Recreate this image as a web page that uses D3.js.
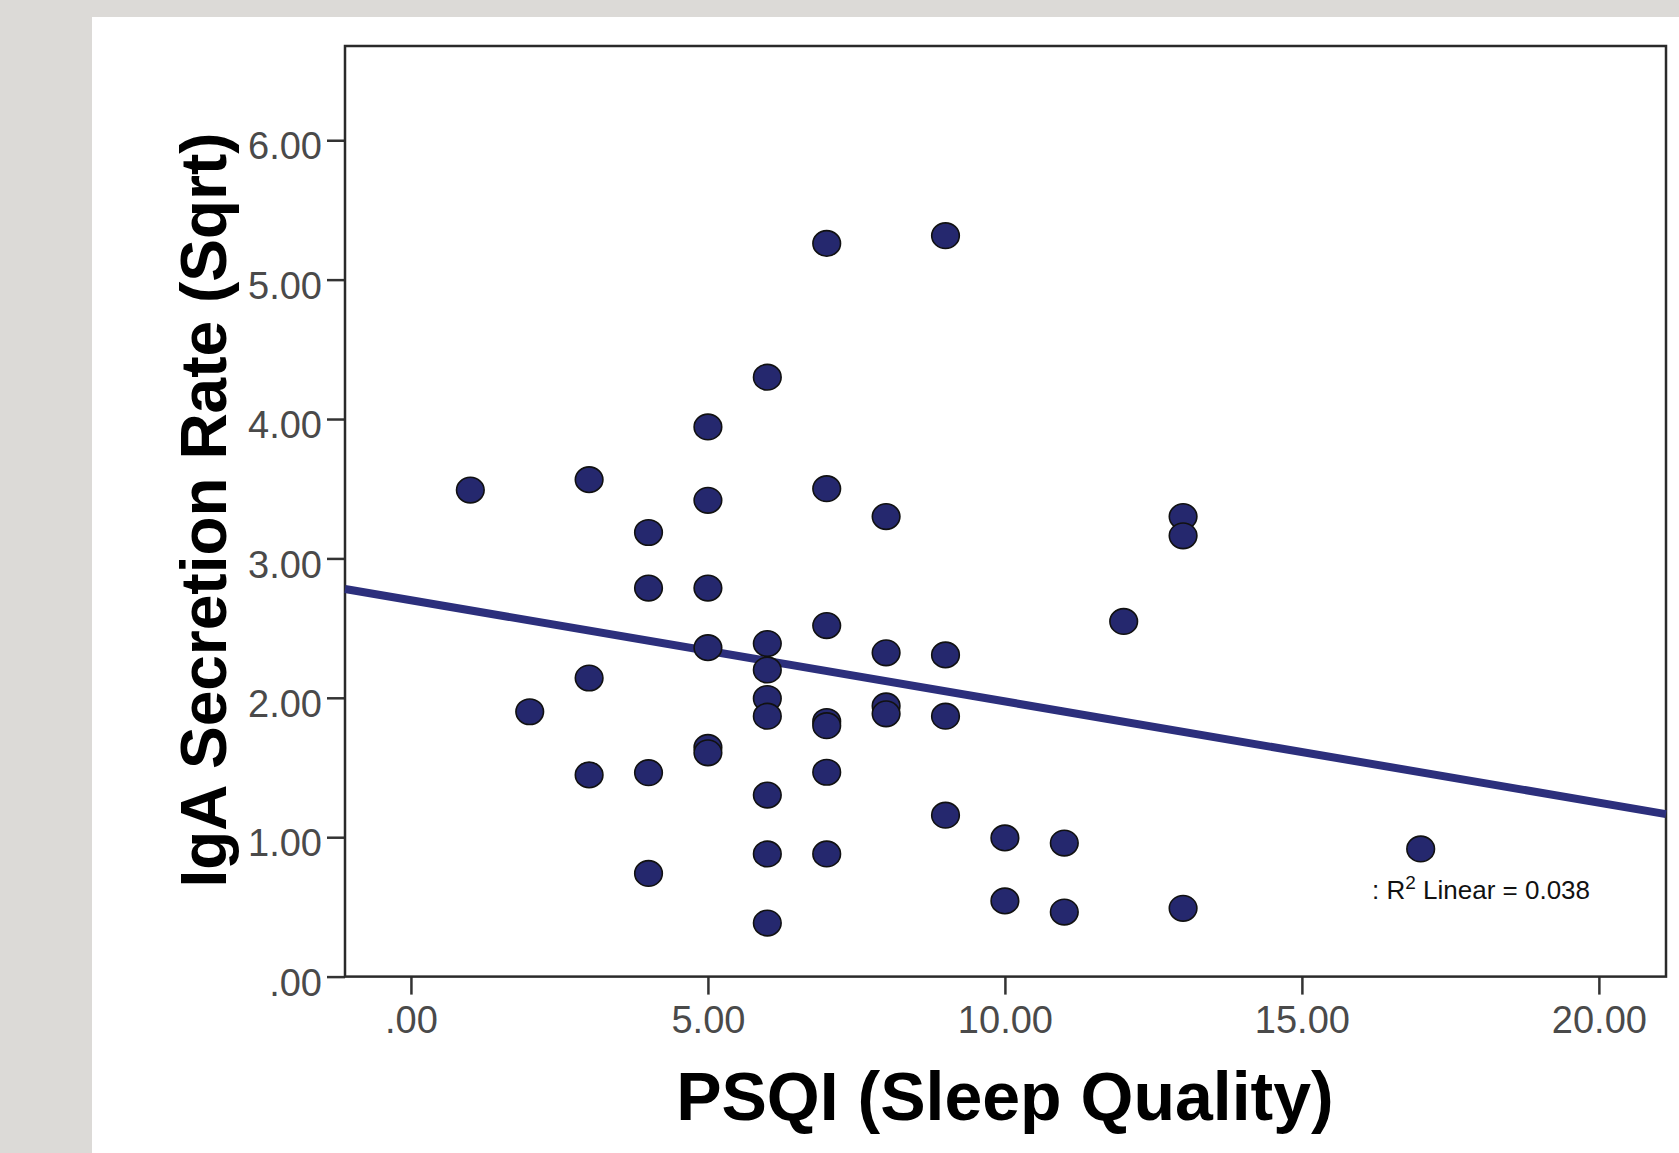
<!DOCTYPE html>
<html>
<head>
<meta charset="utf-8">
<script src="https://cdn.jsdelivr.net/npm/d3@7"></script>
<style>
  html, body { margin: 0; padding: 0; background: #dcdad7; }
  svg { display: block; }
</style>
</head>
<body>
<svg id="chart" width="1679" height="1153"></svg>
<script>
// PSQI score (x) and IgA secretion rate sqrt (y)
const psqi = [1, 2, 3, 3, 3, 4, 4, 4, 4, 5, 5, 5, 5, 5, 5,
  6, 6, 6, 6, 6, 6, 6, 6, 7, 7, 7, 7, 7, 7, 7,
  8, 8, 8, 8, 9, 9, 9, 9, 10, 10, 11, 11, 12, 13, 13, 13, 17];
const iga = [3.49, 1.90, 3.565, 2.142, 1.447, 3.186, 2.787, 1.463, 0.740, 3.943, 3.417, 2.787, 2.36, 1.644, 1.605,
  4.30, 2.389, 2.20, 1.995, 1.868, 1.302, 0.880, 0.384, 5.26, 3.50, 2.518, 1.83, 1.80, 1.466, 0.880,
  3.30, 2.323, 1.942, 1.885, 5.315, 2.308, 1.868, 1.158, 0.995, 0.543, 0.958, 0.463, 2.548, 3.30, 3.162, 0.490, 0.916];
const xTicks = [0, 5, 10, 15, 20];
const yTicks = [0, 1, 2, 3, 4, 5, 6];
// fit line as drawn in the chart
const fitIntercept = 2.70;
const fitSlope = -0.0726;
const r2Text = "0.038";

const svg = d3.select("#chart");
// white panel
svg.append("rect").attr("x", 92).attr("y", 17).attr("width", 1679 - 92).attr("height", 1153 - 17).attr("fill", "#fff");

const plotLeft = 345, plotTop = 46, plotRight = 1666, plotBottom = 976.6;
const x = d3.scaleLinear().domain([-1.11, 21.13]).range([plotLeft, plotRight]);
const y = d3.scaleLinear().domain([0, 6.676]).range([plotBottom, plotTop]);

const fmt = d => d === 0 ? ".00" : d3.format(".2f")(d);
const font = "'Liberation Sans', Arial, sans-serif";

// y axis
const gy = svg.append("g")
    .attr("transform", "translate(" + plotLeft + ",0)")
    .call(d3.axisLeft(y).tickValues(yTicks).tickFormat(fmt).tickSize(18).tickPadding(5));
gy.select(".domain").remove();
gy.selectAll(".tick line").attr("stroke", "#333").attr("stroke-width", 2.5);
gy.selectAll(".tick text")
    .attr("dy", "0.49em")
    .attr("fill", "#4a4a4a")
    .style("font-family", font).style("font-size", "38px");

// x axis
const gx = svg.append("g")
    .attr("transform", "translate(0," + plotBottom + ")")
    .call(d3.axisBottom(x).tickValues(xTicks).tickFormat(fmt).tickSize(18).tickPadding(11));
gx.select(".domain").remove();
gx.selectAll(".tick line").attr("stroke", "#333").attr("stroke-width", 2.5);
gx.selectAll(".tick text")
    .attr("fill", "#4a4a4a")
    .style("font-family", font).style("font-size", "38px");

// frame
svg.append("rect")
    .attr("x", plotLeft).attr("y", plotTop)
    .attr("width", plotRight - plotLeft).attr("height", plotBottom - plotTop)
    .attr("fill", "none").attr("stroke", "#2a2a2a").attr("stroke-width", 2.5);

// fit line
const xd = x.domain();
svg.append("line")
    .attr("x1", x(xd[0])).attr("y1", y(fitIntercept + fitSlope * xd[0]))
    .attr("x2", x(xd[1])).attr("y2", y(fitIntercept + fitSlope * xd[1]))
    .attr("stroke", "#2c2f7c").attr("stroke-width", 8);

// points
const data = psqi.map((d, i) => ({psqi: d, iga: iga[i]}));
svg.selectAll(".dot")
    .data(data)
  .enter().append("ellipse")
    .attr("class", "dot")
    .attr("cx", d => x(d.psqi))
    .attr("cy", d => y(d.iga))
    .attr("rx", 13.8)
    .attr("ry", 12.8)
    .attr("fill", "#25286e")
    .attr("stroke", "#111")
    .attr("stroke-width", 1.6);

// R2 annotation
const ann = svg.append("text")
    .attr("x", 1372).attr("y", 899)
    .style("font-family", font).style("font-size", "26px").attr("fill", "#111");
ann.append("tspan").text(": R");
ann.append("tspan").attr("dy", -10).style("font-size", "19px").text("2");
ann.append("tspan").attr("dy", 10).text(" Linear = " + r2Text);

// axis titles
svg.append("text")
    .attr("x", x(10)).attr("y", 1120)
    .attr("text-anchor", "middle")
    .style("font-family", font).style("font-size", "68px").style("font-weight", "bold")
    .text("PSQI (Sleep Quality)");

svg.append("text")
    .attr("transform", "translate(226,510) rotate(-90)")
    .attr("text-anchor", "middle")
    .style("font-family", font).style("font-size", "64px").style("font-weight", "bold")
    .text("IgA Secretion Rate (Sqrt)");
</script>
</body>
</html>
